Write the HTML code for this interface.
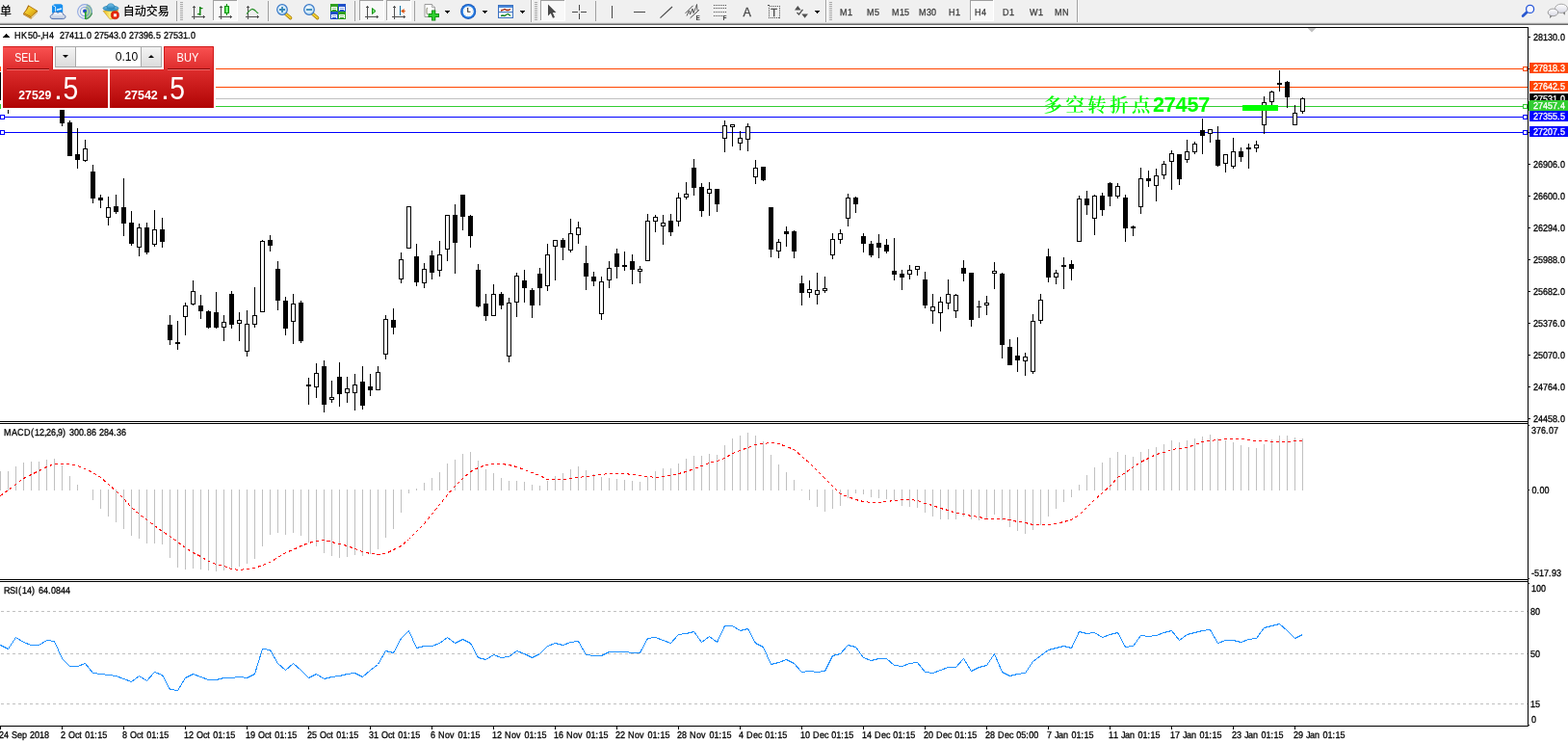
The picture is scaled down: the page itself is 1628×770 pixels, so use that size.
<!DOCTYPE html>
<html><head><meta charset="utf-8"><title>HK50-,H4</title>
<style>
html,body{margin:0;padding:0;background:#fff}
body{width:1628px;height:770px;overflow:hidden}
svg{display:block;font-family:"Liberation Sans","Noto Sans CJK SC",sans-serif}
#chart rect,#chart polyline,#chart line{shape-rendering:crispEdges}
</style></head><body>
<svg width="1628" height="770" viewBox="0 0 1628 770">
<rect x="0" y="0" width="1628" height="770" fill="#fff"/>
<g id="chart">
<rect x="0" y="28" width="1587" height="1" fill="#000"/>
<rect x="0" y="437" width="1587" height="1" fill="#000"/>
<rect x="0" y="439" width="1587" height="1" fill="#000"/>
<rect x="0" y="601" width="1587" height="1" fill="#000"/>
<rect x="0" y="603" width="1587" height="1" fill="#000"/>
<rect x="0" y="753" width="1587" height="1" fill="#000"/>
<rect x="1586" y="28" width="1" height="726" fill="#000"/>
<rect x="0" y="71" width="1586" height="1" fill="#ff4500"/>
<rect x="0" y="90" width="1586" height="1" fill="#ff4500"/>
<rect x="0" y="102" width="1586" height="1" fill="#c0c0c0"/>
<rect x="0" y="110" width="1586" height="1" fill="#32cd32"/>
<rect x="0" y="121" width="1586" height="1" fill="#0000ff"/>
<rect x="0" y="137" width="1586" height="1" fill="#0000ff"/>
<text y="116" font-size="21" font-weight="bold" fill="#00ff00"><tspan x="1083.5 1106.4 1129.3 1152.2 1175.1" font-size="19.3" font-weight="600" font-family='"Noto Serif CJK SC","Liberation Serif",serif'>多空转折点</tspan><tspan x="1197 1208.8 1220.6 1232.4 1244.2" font-size="21.6" font-family='"Liberation Sans",sans-serif'>27457</tspan></text>
<g id="candles">
<rect x="64" y="105" width="1" height="26" fill="#000"/>
<rect x="62" y="105" width="5" height="23" fill="#000"/>
<rect x="72" y="125" width="1" height="37" fill="#000"/>
<rect x="70" y="127" width="5" height="35" fill="#000"/>
<rect x="80" y="133" width="1" height="42" fill="#000"/>
<rect x="78" y="160" width="5" height="6" fill="#000"/>
<rect x="88" y="145" width="1" height="23" fill="#000"/>
<rect x="86" y="154" width="5" height="13" fill="#000"/>
<rect x="87" y="155" width="3" height="11" fill="#fff"/>
<rect x="96" y="171" width="1" height="40" fill="#000"/>
<rect x="94" y="178" width="5" height="28" fill="#000"/>
<rect x="104" y="202" width="1" height="14" fill="#000"/>
<rect x="102" y="205" width="5" height="3" fill="#000"/>
<rect x="112" y="204" width="1" height="30" fill="#000"/>
<rect x="110" y="215" width="5" height="11" fill="#000"/>
<rect x="111" y="216" width="3" height="9" fill="#fff"/>
<rect x="120" y="202" width="1" height="20" fill="#000"/>
<rect x="118" y="214" width="5" height="6" fill="#000"/>
<rect x="128" y="185" width="1" height="60" fill="#000"/>
<rect x="126" y="215" width="5" height="17" fill="#000"/>
<rect x="136" y="219" width="1" height="36" fill="#000"/>
<rect x="134" y="231" width="5" height="22" fill="#000"/>
<rect x="144" y="232" width="1" height="34" fill="#000"/>
<rect x="142" y="236" width="5" height="21" fill="#000"/>
<rect x="143" y="237" width="3" height="19" fill="#fff"/>
<rect x="152" y="231" width="1" height="33" fill="#000"/>
<rect x="150" y="236" width="5" height="26" fill="#000"/>
<rect x="160" y="218" width="1" height="38" fill="#000"/>
<rect x="158" y="238" width="5" height="16" fill="#000"/>
<rect x="159" y="239" width="3" height="14" fill="#fff"/>
<rect x="168" y="226" width="1" height="31" fill="#000"/>
<rect x="166" y="238" width="5" height="13" fill="#000"/>
<rect x="176" y="327" width="1" height="31" fill="#000"/>
<rect x="174" y="337" width="5" height="16" fill="#000"/>
<rect x="184" y="333" width="1" height="30" fill="#000"/>
<rect x="182" y="355" width="5" height="2" fill="#000"/>
<rect x="192" y="314" width="1" height="34" fill="#000"/>
<rect x="190" y="317" width="5" height="12" fill="#000"/>
<rect x="191" y="318" width="3" height="10" fill="#fff"/>
<rect x="200" y="291" width="1" height="26" fill="#000"/>
<rect x="198" y="302" width="5" height="14" fill="#000"/>
<rect x="199" y="303" width="3" height="12" fill="#fff"/>
<rect x="208" y="306" width="1" height="25" fill="#000"/>
<rect x="206" y="317" width="5" height="6" fill="#000"/>
<rect x="216" y="322" width="1" height="19" fill="#000"/>
<rect x="214" y="323" width="5" height="17" fill="#000"/>
<rect x="224" y="303" width="1" height="38" fill="#000"/>
<rect x="222" y="324" width="5" height="16" fill="#000"/>
<rect x="232" y="327" width="1" height="27" fill="#000"/>
<rect x="230" y="334" width="5" height="6" fill="#000"/>
<rect x="231" y="335" width="3" height="4" fill="#fff"/>
<rect x="240" y="302" width="1" height="39" fill="#000"/>
<rect x="238" y="305" width="5" height="32" fill="#000"/>
<rect x="248" y="324" width="1" height="30" fill="#000"/>
<rect x="246" y="332" width="5" height="4" fill="#000"/>
<rect x="247" y="333" width="3" height="2" fill="#fff"/>
<rect x="256" y="322" width="1" height="48" fill="#000"/>
<rect x="254" y="336" width="5" height="29" fill="#000"/>
<rect x="255" y="337" width="3" height="27" fill="#fff"/>
<rect x="264" y="298" width="1" height="42" fill="#000"/>
<rect x="262" y="327" width="5" height="10" fill="#000"/>
<rect x="263" y="328" width="3" height="8" fill="#fff"/>
<rect x="272" y="249" width="1" height="75" fill="#000"/>
<rect x="270" y="250" width="5" height="74" fill="#000"/>
<rect x="271" y="251" width="3" height="72" fill="#fff"/>
<rect x="280" y="244" width="1" height="17" fill="#000"/>
<rect x="278" y="249" width="5" height="6" fill="#000"/>
<rect x="288" y="271" width="1" height="51" fill="#000"/>
<rect x="286" y="279" width="5" height="33" fill="#000"/>
<rect x="296" y="308" width="1" height="40" fill="#000"/>
<rect x="294" y="312" width="5" height="29" fill="#000"/>
<rect x="304" y="305" width="1" height="52" fill="#000"/>
<rect x="302" y="315" width="5" height="19" fill="#000"/>
<rect x="303" y="316" width="3" height="17" fill="#fff"/>
<rect x="312" y="312" width="1" height="44" fill="#000"/>
<rect x="310" y="314" width="5" height="40" fill="#000"/>
<rect x="320" y="392" width="1" height="28" fill="#000"/>
<rect x="318" y="399" width="5" height="2" fill="#000"/>
<rect x="328" y="377" width="1" height="36" fill="#000"/>
<rect x="326" y="387" width="5" height="15" fill="#000"/>
<rect x="327" y="388" width="3" height="13" fill="#fff"/>
<rect x="336" y="374" width="1" height="54" fill="#000"/>
<rect x="334" y="380" width="5" height="40" fill="#000"/>
<rect x="344" y="395" width="1" height="23" fill="#000"/>
<rect x="342" y="412" width="5" height="3" fill="#000"/>
<rect x="343" y="413" width="3" height="1" fill="#fff"/>
<rect x="352" y="376" width="1" height="46" fill="#000"/>
<rect x="350" y="391" width="5" height="18" fill="#000"/>
<rect x="360" y="391" width="1" height="27" fill="#000"/>
<rect x="358" y="403" width="5" height="5" fill="#000"/>
<rect x="359" y="404" width="3" height="3" fill="#fff"/>
<rect x="368" y="388" width="1" height="38" fill="#000"/>
<rect x="366" y="399" width="5" height="9" fill="#000"/>
<rect x="367" y="400" width="3" height="7" fill="#fff"/>
<rect x="376" y="380" width="1" height="45" fill="#000"/>
<rect x="374" y="396" width="5" height="25" fill="#000"/>
<rect x="384" y="388" width="1" height="23" fill="#000"/>
<rect x="382" y="401" width="5" height="4" fill="#000"/>
<rect x="392" y="380" width="1" height="25" fill="#000"/>
<rect x="390" y="386" width="5" height="19" fill="#000"/>
<rect x="391" y="387" width="3" height="17" fill="#fff"/>
<rect x="400" y="327" width="1" height="46" fill="#000"/>
<rect x="398" y="331" width="5" height="37" fill="#000"/>
<rect x="399" y="332" width="3" height="35" fill="#fff"/>
<rect x="408" y="320" width="1" height="27" fill="#000"/>
<rect x="406" y="332" width="5" height="8" fill="#000"/>
<rect x="416" y="262" width="1" height="32" fill="#000"/>
<rect x="414" y="269" width="5" height="21" fill="#000"/>
<rect x="415" y="270" width="3" height="19" fill="#fff"/>
<rect x="424" y="214" width="1" height="44" fill="#000"/>
<rect x="422" y="214" width="5" height="44" fill="#000"/>
<rect x="423" y="215" width="3" height="42" fill="#fff"/>
<rect x="432" y="253" width="1" height="44" fill="#000"/>
<rect x="430" y="266" width="5" height="27" fill="#000"/>
<rect x="440" y="273" width="1" height="26" fill="#000"/>
<rect x="438" y="279" width="5" height="15" fill="#000"/>
<rect x="439" y="280" width="3" height="13" fill="#fff"/>
<rect x="448" y="260" width="1" height="30" fill="#000"/>
<rect x="446" y="265" width="5" height="18" fill="#000"/>
<rect x="456" y="250" width="1" height="37" fill="#000"/>
<rect x="454" y="264" width="5" height="17" fill="#000"/>
<rect x="455" y="265" width="3" height="15" fill="#fff"/>
<rect x="464" y="223" width="1" height="48" fill="#000"/>
<rect x="462" y="223" width="5" height="36" fill="#000"/>
<rect x="463" y="224" width="3" height="34" fill="#fff"/>
<rect x="472" y="212" width="1" height="72" fill="#000"/>
<rect x="470" y="223" width="5" height="29" fill="#000"/>
<rect x="480" y="202" width="1" height="37" fill="#000"/>
<rect x="478" y="202" width="5" height="23" fill="#000"/>
<rect x="488" y="223" width="1" height="34" fill="#000"/>
<rect x="486" y="224" width="5" height="21" fill="#000"/>
<rect x="496" y="274" width="1" height="45" fill="#000"/>
<rect x="494" y="280" width="5" height="38" fill="#000"/>
<rect x="504" y="305" width="1" height="28" fill="#000"/>
<rect x="502" y="315" width="5" height="13" fill="#000"/>
<rect x="512" y="295" width="1" height="33" fill="#000"/>
<rect x="510" y="305" width="5" height="23" fill="#000"/>
<rect x="511" y="306" width="3" height="21" fill="#fff"/>
<rect x="520" y="303" width="1" height="18" fill="#000"/>
<rect x="518" y="305" width="5" height="12" fill="#000"/>
<rect x="528" y="309" width="1" height="67" fill="#000"/>
<rect x="526" y="314" width="5" height="56" fill="#000"/>
<rect x="527" y="315" width="3" height="54" fill="#fff"/>
<rect x="536" y="283" width="1" height="46" fill="#000"/>
<rect x="534" y="286" width="5" height="28" fill="#000"/>
<rect x="535" y="287" width="3" height="26" fill="#fff"/>
<rect x="544" y="280" width="1" height="34" fill="#000"/>
<rect x="542" y="291" width="5" height="8" fill="#000"/>
<rect x="552" y="299" width="1" height="31" fill="#000"/>
<rect x="550" y="301" width="5" height="16" fill="#000"/>
<rect x="560" y="278" width="1" height="39" fill="#000"/>
<rect x="558" y="284" width="5" height="15" fill="#000"/>
<rect x="568" y="253" width="1" height="49" fill="#000"/>
<rect x="566" y="264" width="5" height="33" fill="#000"/>
<rect x="567" y="265" width="3" height="31" fill="#fff"/>
<rect x="576" y="249" width="1" height="42" fill="#000"/>
<rect x="574" y="249" width="5" height="7" fill="#000"/>
<rect x="575" y="250" width="3" height="5" fill="#fff"/>
<rect x="584" y="247" width="1" height="23" fill="#000"/>
<rect x="582" y="249" width="5" height="8" fill="#000"/>
<rect x="592" y="227" width="1" height="35" fill="#000"/>
<rect x="590" y="242" width="5" height="18" fill="#000"/>
<rect x="591" y="243" width="3" height="16" fill="#fff"/>
<rect x="600" y="230" width="1" height="23" fill="#000"/>
<rect x="598" y="236" width="5" height="8" fill="#000"/>
<rect x="599" y="237" width="3" height="6" fill="#fff"/>
<rect x="608" y="255" width="1" height="46" fill="#000"/>
<rect x="606" y="273" width="5" height="14" fill="#000"/>
<rect x="616" y="282" width="1" height="15" fill="#000"/>
<rect x="614" y="287" width="5" height="5" fill="#000"/>
<rect x="624" y="287" width="1" height="45" fill="#000"/>
<rect x="622" y="292" width="5" height="34" fill="#000"/>
<rect x="623" y="293" width="3" height="32" fill="#fff"/>
<rect x="632" y="271" width="1" height="28" fill="#000"/>
<rect x="630" y="278" width="5" height="13" fill="#000"/>
<rect x="631" y="279" width="3" height="11" fill="#fff"/>
<rect x="640" y="258" width="1" height="31" fill="#000"/>
<rect x="638" y="263" width="5" height="14" fill="#000"/>
<rect x="648" y="261" width="1" height="20" fill="#000"/>
<rect x="646" y="275" width="5" height="2" fill="#000"/>
<rect x="656" y="264" width="1" height="31" fill="#000"/>
<rect x="654" y="271" width="5" height="9" fill="#000"/>
<rect x="664" y="276" width="1" height="18" fill="#000"/>
<rect x="662" y="279" width="5" height="3" fill="#000"/>
<rect x="663" y="280" width="3" height="1" fill="#fff"/>
<rect x="672" y="222" width="1" height="49" fill="#000"/>
<rect x="670" y="229" width="5" height="42" fill="#000"/>
<rect x="671" y="230" width="3" height="40" fill="#fff"/>
<rect x="680" y="223" width="1" height="18" fill="#000"/>
<rect x="678" y="225" width="5" height="5" fill="#000"/>
<rect x="679" y="226" width="3" height="3" fill="#fff"/>
<rect x="688" y="223" width="1" height="31" fill="#000"/>
<rect x="686" y="231" width="5" height="4" fill="#000"/>
<rect x="687" y="232" width="3" height="2" fill="#fff"/>
<rect x="696" y="222" width="1" height="23" fill="#000"/>
<rect x="694" y="229" width="5" height="12" fill="#000"/>
<rect x="704" y="200" width="1" height="35" fill="#000"/>
<rect x="702" y="205" width="5" height="25" fill="#000"/>
<rect x="703" y="206" width="3" height="23" fill="#fff"/>
<rect x="712" y="189" width="1" height="18" fill="#000"/>
<rect x="710" y="201" width="5" height="4" fill="#000"/>
<rect x="711" y="202" width="3" height="2" fill="#fff"/>
<rect x="720" y="165" width="1" height="38" fill="#000"/>
<rect x="718" y="174" width="5" height="21" fill="#000"/>
<rect x="728" y="190" width="1" height="35" fill="#000"/>
<rect x="726" y="194" width="5" height="25" fill="#000"/>
<rect x="736" y="189" width="1" height="35" fill="#000"/>
<rect x="734" y="196" width="5" height="5" fill="#000"/>
<rect x="735" y="197" width="3" height="3" fill="#fff"/>
<rect x="744" y="196" width="1" height="24" fill="#000"/>
<rect x="742" y="196" width="5" height="16" fill="#000"/>
<rect x="752" y="125" width="1" height="33" fill="#000"/>
<rect x="750" y="130" width="5" height="14" fill="#000"/>
<rect x="751" y="131" width="3" height="12" fill="#fff"/>
<rect x="760" y="129" width="1" height="23" fill="#000"/>
<rect x="758" y="129" width="5" height="3" fill="#000"/>
<rect x="759" y="130" width="3" height="1" fill="#fff"/>
<rect x="768" y="136" width="1" height="20" fill="#000"/>
<rect x="766" y="143" width="5" height="6" fill="#000"/>
<rect x="767" y="144" width="3" height="4" fill="#fff"/>
<rect x="776" y="128" width="1" height="29" fill="#000"/>
<rect x="774" y="131" width="5" height="14" fill="#000"/>
<rect x="775" y="132" width="3" height="12" fill="#fff"/>
<rect x="784" y="166" width="1" height="25" fill="#000"/>
<rect x="782" y="174" width="5" height="10" fill="#000"/>
<rect x="783" y="175" width="3" height="8" fill="#fff"/>
<rect x="792" y="173" width="1" height="15" fill="#000"/>
<rect x="790" y="173" width="5" height="14" fill="#000"/>
<rect x="800" y="215" width="1" height="52" fill="#000"/>
<rect x="798" y="215" width="5" height="44" fill="#000"/>
<rect x="808" y="248" width="1" height="20" fill="#000"/>
<rect x="806" y="251" width="5" height="10" fill="#000"/>
<rect x="807" y="252" width="3" height="8" fill="#fff"/>
<rect x="816" y="235" width="1" height="21" fill="#000"/>
<rect x="814" y="240" width="5" height="3" fill="#000"/>
<rect x="824" y="239" width="1" height="29" fill="#000"/>
<rect x="822" y="240" width="5" height="21" fill="#000"/>
<rect x="832" y="286" width="1" height="31" fill="#000"/>
<rect x="830" y="294" width="5" height="10" fill="#000"/>
<rect x="840" y="291" width="1" height="18" fill="#000"/>
<rect x="838" y="300" width="5" height="4" fill="#000"/>
<rect x="839" y="301" width="3" height="2" fill="#fff"/>
<rect x="848" y="283" width="1" height="33" fill="#000"/>
<rect x="846" y="301" width="5" height="5" fill="#000"/>
<rect x="847" y="302" width="3" height="3" fill="#fff"/>
<rect x="856" y="287" width="1" height="17" fill="#000"/>
<rect x="854" y="299" width="5" height="3" fill="#000"/>
<rect x="855" y="300" width="3" height="1" fill="#fff"/>
<rect x="864" y="242" width="1" height="27" fill="#000"/>
<rect x="862" y="248" width="5" height="17" fill="#000"/>
<rect x="863" y="249" width="3" height="15" fill="#fff"/>
<rect x="872" y="238" width="1" height="15" fill="#000"/>
<rect x="870" y="242" width="5" height="7" fill="#000"/>
<rect x="871" y="243" width="3" height="5" fill="#fff"/>
<rect x="880" y="201" width="1" height="34" fill="#000"/>
<rect x="878" y="205" width="5" height="22" fill="#000"/>
<rect x="879" y="206" width="3" height="20" fill="#fff"/>
<rect x="888" y="204" width="1" height="17" fill="#000"/>
<rect x="886" y="205" width="5" height="7" fill="#000"/>
<rect x="896" y="242" width="1" height="20" fill="#000"/>
<rect x="894" y="245" width="5" height="8" fill="#000"/>
<rect x="904" y="250" width="1" height="17" fill="#000"/>
<rect x="902" y="253" width="5" height="12" fill="#000"/>
<rect x="912" y="243" width="1" height="25" fill="#000"/>
<rect x="910" y="252" width="5" height="5" fill="#000"/>
<rect x="920" y="248" width="1" height="15" fill="#000"/>
<rect x="918" y="254" width="5" height="7" fill="#000"/>
<rect x="928" y="247" width="1" height="44" fill="#000"/>
<rect x="926" y="281" width="5" height="4" fill="#000"/>
<rect x="936" y="280" width="1" height="21" fill="#000"/>
<rect x="934" y="284" width="5" height="4" fill="#000"/>
<rect x="944" y="275" width="1" height="15" fill="#000"/>
<rect x="942" y="280" width="5" height="5" fill="#000"/>
<rect x="943" y="281" width="3" height="3" fill="#fff"/>
<rect x="952" y="276" width="1" height="10" fill="#000"/>
<rect x="950" y="276" width="5" height="4" fill="#000"/>
<rect x="951" y="277" width="3" height="2" fill="#fff"/>
<rect x="960" y="282" width="1" height="38" fill="#000"/>
<rect x="958" y="290" width="5" height="27" fill="#000"/>
<rect x="968" y="305" width="1" height="31" fill="#000"/>
<rect x="966" y="318" width="5" height="5" fill="#000"/>
<rect x="967" y="319" width="3" height="3" fill="#fff"/>
<rect x="976" y="308" width="1" height="36" fill="#000"/>
<rect x="974" y="313" width="5" height="12" fill="#000"/>
<rect x="975" y="314" width="3" height="10" fill="#fff"/>
<rect x="984" y="290" width="1" height="31" fill="#000"/>
<rect x="982" y="305" width="5" height="10" fill="#000"/>
<rect x="983" y="306" width="3" height="8" fill="#fff"/>
<rect x="992" y="305" width="1" height="25" fill="#000"/>
<rect x="990" y="306" width="5" height="17" fill="#000"/>
<rect x="991" y="307" width="3" height="15" fill="#fff"/>
<rect x="1000" y="270" width="1" height="22" fill="#000"/>
<rect x="998" y="278" width="5" height="6" fill="#000"/>
<rect x="1008" y="283" width="1" height="56" fill="#000"/>
<rect x="1006" y="283" width="5" height="49" fill="#000"/>
<rect x="1016" y="312" width="1" height="18" fill="#000"/>
<rect x="1014" y="318" width="5" height="1" fill="#000"/>
<rect x="1024" y="307" width="1" height="20" fill="#000"/>
<rect x="1022" y="314" width="5" height="3" fill="#000"/>
<rect x="1023" y="315" width="3" height="1" fill="#fff"/>
<rect x="1032" y="272" width="1" height="28" fill="#000"/>
<rect x="1030" y="281" width="5" height="3" fill="#000"/>
<rect x="1031" y="282" width="3" height="1" fill="#fff"/>
<rect x="1040" y="283" width="1" height="89" fill="#000"/>
<rect x="1038" y="284" width="5" height="74" fill="#000"/>
<rect x="1048" y="352" width="1" height="27" fill="#000"/>
<rect x="1046" y="360" width="5" height="19" fill="#000"/>
<rect x="1056" y="350" width="1" height="36" fill="#000"/>
<rect x="1054" y="369" width="5" height="5" fill="#000"/>
<rect x="1064" y="366" width="1" height="24" fill="#000"/>
<rect x="1062" y="370" width="5" height="5" fill="#000"/>
<rect x="1063" y="371" width="3" height="3" fill="#fff"/>
<rect x="1072" y="326" width="1" height="62" fill="#000"/>
<rect x="1070" y="333" width="5" height="53" fill="#000"/>
<rect x="1071" y="334" width="3" height="51" fill="#fff"/>
<rect x="1080" y="305" width="1" height="31" fill="#000"/>
<rect x="1078" y="311" width="5" height="22" fill="#000"/>
<rect x="1079" y="312" width="3" height="20" fill="#fff"/>
<rect x="1088" y="258" width="1" height="35" fill="#000"/>
<rect x="1086" y="266" width="5" height="22" fill="#000"/>
<rect x="1096" y="280" width="1" height="15" fill="#000"/>
<rect x="1094" y="283" width="5" height="5" fill="#000"/>
<rect x="1095" y="284" width="3" height="3" fill="#fff"/>
<rect x="1104" y="267" width="1" height="33" fill="#000"/>
<rect x="1102" y="275" width="5" height="2" fill="#000"/>
<rect x="1112" y="270" width="1" height="21" fill="#000"/>
<rect x="1110" y="274" width="5" height="5" fill="#000"/>
<rect x="1120" y="203" width="1" height="48" fill="#000"/>
<rect x="1118" y="206" width="5" height="45" fill="#000"/>
<rect x="1119" y="207" width="3" height="43" fill="#fff"/>
<rect x="1128" y="198" width="1" height="25" fill="#000"/>
<rect x="1126" y="206" width="5" height="7" fill="#000"/>
<rect x="1136" y="202" width="1" height="42" fill="#000"/>
<rect x="1134" y="203" width="5" height="24" fill="#000"/>
<rect x="1135" y="204" width="3" height="22" fill="#fff"/>
<rect x="1144" y="200" width="1" height="24" fill="#000"/>
<rect x="1142" y="203" width="5" height="15" fill="#000"/>
<rect x="1152" y="189" width="1" height="25" fill="#000"/>
<rect x="1150" y="190" width="5" height="14" fill="#000"/>
<rect x="1160" y="190" width="1" height="16" fill="#000"/>
<rect x="1158" y="193" width="5" height="11" fill="#000"/>
<rect x="1159" y="194" width="3" height="9" fill="#fff"/>
<rect x="1168" y="202" width="1" height="49" fill="#000"/>
<rect x="1166" y="205" width="5" height="32" fill="#000"/>
<rect x="1176" y="234" width="1" height="11" fill="#000"/>
<rect x="1174" y="235" width="5" height="2" fill="#000"/>
<rect x="1184" y="174" width="1" height="48" fill="#000"/>
<rect x="1182" y="185" width="5" height="30" fill="#000"/>
<rect x="1183" y="186" width="3" height="28" fill="#fff"/>
<rect x="1192" y="177" width="1" height="17" fill="#000"/>
<rect x="1190" y="185" width="5" height="3" fill="#000"/>
<rect x="1200" y="175" width="1" height="34" fill="#000"/>
<rect x="1198" y="182" width="5" height="11" fill="#000"/>
<rect x="1199" y="183" width="3" height="9" fill="#fff"/>
<rect x="1208" y="167" width="1" height="19" fill="#000"/>
<rect x="1206" y="170" width="5" height="12" fill="#000"/>
<rect x="1207" y="171" width="3" height="10" fill="#fff"/>
<rect x="1216" y="156" width="1" height="41" fill="#000"/>
<rect x="1214" y="159" width="5" height="9" fill="#000"/>
<rect x="1215" y="160" width="3" height="7" fill="#fff"/>
<rect x="1224" y="160" width="1" height="32" fill="#000"/>
<rect x="1222" y="160" width="5" height="26" fill="#000"/>
<rect x="1232" y="145" width="1" height="24" fill="#000"/>
<rect x="1230" y="157" width="5" height="9" fill="#000"/>
<rect x="1231" y="158" width="3" height="7" fill="#fff"/>
<rect x="1240" y="147" width="1" height="13" fill="#000"/>
<rect x="1238" y="149" width="5" height="9" fill="#000"/>
<rect x="1239" y="150" width="3" height="7" fill="#fff"/>
<rect x="1248" y="123" width="1" height="37" fill="#000"/>
<rect x="1246" y="135" width="5" height="6" fill="#000"/>
<rect x="1256" y="134" width="1" height="14" fill="#000"/>
<rect x="1254" y="134" width="5" height="5" fill="#000"/>
<rect x="1255" y="135" width="3" height="3" fill="#fff"/>
<rect x="1264" y="131" width="1" height="42" fill="#000"/>
<rect x="1262" y="145" width="5" height="27" fill="#000"/>
<rect x="1272" y="160" width="1" height="19" fill="#000"/>
<rect x="1270" y="160" width="5" height="10" fill="#000"/>
<rect x="1271" y="161" width="3" height="8" fill="#fff"/>
<rect x="1280" y="143" width="1" height="32" fill="#000"/>
<rect x="1278" y="157" width="5" height="16" fill="#000"/>
<rect x="1279" y="158" width="3" height="14" fill="#fff"/>
<rect x="1288" y="153" width="1" height="15" fill="#000"/>
<rect x="1286" y="157" width="5" height="6" fill="#000"/>
<rect x="1296" y="149" width="1" height="26" fill="#000"/>
<rect x="1294" y="153" width="5" height="2" fill="#000"/>
<rect x="1304" y="146" width="1" height="12" fill="#000"/>
<rect x="1302" y="150" width="5" height="4" fill="#000"/>
<rect x="1303" y="151" width="3" height="2" fill="#fff"/>
<rect x="1312" y="100" width="1" height="39" fill="#000"/>
<rect x="1310" y="106" width="5" height="24" fill="#000"/>
<rect x="1311" y="107" width="3" height="22" fill="#fff"/>
<rect x="1320" y="94" width="1" height="15" fill="#000"/>
<rect x="1318" y="95" width="5" height="11" fill="#000"/>
<rect x="1319" y="96" width="3" height="9" fill="#fff"/>
<rect x="1328" y="73" width="1" height="22" fill="#000"/>
<rect x="1326" y="86" width="5" height="2" fill="#000"/>
<rect x="1336" y="84" width="1" height="28" fill="#000"/>
<rect x="1334" y="85" width="5" height="16" fill="#000"/>
<rect x="1344" y="109" width="1" height="21" fill="#000"/>
<rect x="1342" y="117" width="5" height="13" fill="#000"/>
<rect x="1343" y="118" width="3" height="11" fill="#fff"/>
<rect x="1352" y="101" width="1" height="17" fill="#000"/>
<rect x="1350" y="102" width="5" height="14" fill="#000"/>
<rect x="1351" y="103" width="3" height="12" fill="#fff"/>
<rect x="0" y="75" width="1" height="29" fill="#000"/>
<rect x="8" y="100" width="1" height="18" fill="#000"/>
</g>
<rect x="1290" y="109" width="37" height="6" fill="#00ff00"/>
<rect x="0.5" y="69.5" width="4" height="4" fill="#fff" stroke="#ff4500" stroke-width="1"/>
<rect x="1581.5" y="69.5" width="4" height="4" fill="#fff" stroke="#ff4500" stroke-width="1"/>
<rect x="0.5" y="108.5" width="4" height="4" fill="#fff" stroke="#32cd32" stroke-width="1"/>
<rect x="1581.5" y="108.5" width="4" height="4" fill="#fff" stroke="#32cd32" stroke-width="1"/>
<rect x="0.5" y="119.5" width="4" height="4" fill="#fff" stroke="#0000ff" stroke-width="1"/>
<rect x="1581.5" y="119.5" width="4" height="4" fill="#fff" stroke="#0000ff" stroke-width="1"/>
<rect x="0.5" y="135.5" width="4" height="4" fill="#fff" stroke="#0000ff" stroke-width="1"/>
<rect x="1581.5" y="135.5" width="4" height="4" fill="#fff" stroke="#0000ff" stroke-width="1"/>
<g id="macd">
<rect x="0" y="489" width="1" height="20" fill="#c0c0c0"/>
<rect x="8" y="489" width="1" height="20" fill="#c0c0c0"/>
<rect x="16" y="484" width="1" height="25" fill="#c0c0c0"/>
<rect x="24" y="480" width="1" height="29" fill="#c0c0c0"/>
<rect x="32" y="479" width="1" height="30" fill="#c0c0c0"/>
<rect x="40" y="479" width="1" height="30" fill="#c0c0c0"/>
<rect x="48" y="477" width="1" height="32" fill="#c0c0c0"/>
<rect x="56" y="476" width="1" height="33" fill="#c0c0c0"/>
<rect x="64" y="483" width="1" height="26" fill="#c0c0c0"/>
<rect x="72" y="494" width="1" height="15" fill="#c0c0c0"/>
<rect x="80" y="503" width="1" height="6" fill="#c0c0c0"/>
<rect x="96" y="508" width="1" height="11" fill="#c0c0c0"/>
<rect x="104" y="508" width="1" height="20" fill="#c0c0c0"/>
<rect x="112" y="508" width="1" height="28" fill="#c0c0c0"/>
<rect x="120" y="508" width="1" height="34" fill="#c0c0c0"/>
<rect x="128" y="508" width="1" height="41" fill="#c0c0c0"/>
<rect x="136" y="508" width="1" height="48" fill="#c0c0c0"/>
<rect x="144" y="508" width="1" height="51" fill="#c0c0c0"/>
<rect x="152" y="508" width="1" height="56" fill="#c0c0c0"/>
<rect x="160" y="508" width="1" height="56" fill="#c0c0c0"/>
<rect x="168" y="508" width="1" height="57" fill="#c0c0c0"/>
<rect x="176" y="508" width="1" height="71" fill="#c0c0c0"/>
<rect x="184" y="508" width="1" height="81" fill="#c0c0c0"/>
<rect x="192" y="508" width="1" height="83" fill="#c0c0c0"/>
<rect x="200" y="508" width="1" height="82" fill="#c0c0c0"/>
<rect x="208" y="508" width="1" height="83" fill="#c0c0c0"/>
<rect x="216" y="508" width="1" height="84" fill="#c0c0c0"/>
<rect x="224" y="508" width="1" height="85" fill="#c0c0c0"/>
<rect x="232" y="508" width="1" height="84" fill="#c0c0c0"/>
<rect x="240" y="508" width="1" height="82" fill="#c0c0c0"/>
<rect x="248" y="508" width="1" height="80" fill="#c0c0c0"/>
<rect x="256" y="508" width="1" height="77" fill="#c0c0c0"/>
<rect x="264" y="508" width="1" height="72" fill="#c0c0c0"/>
<rect x="272" y="508" width="1" height="59" fill="#c0c0c0"/>
<rect x="280" y="508" width="1" height="47" fill="#c0c0c0"/>
<rect x="288" y="508" width="1" height="45" fill="#c0c0c0"/>
<rect x="296" y="508" width="1" height="47" fill="#c0c0c0"/>
<rect x="304" y="508" width="1" height="45" fill="#c0c0c0"/>
<rect x="312" y="508" width="1" height="48" fill="#c0c0c0"/>
<rect x="320" y="508" width="1" height="55" fill="#c0c0c0"/>
<rect x="328" y="508" width="1" height="59" fill="#c0c0c0"/>
<rect x="336" y="508" width="1" height="66" fill="#c0c0c0"/>
<rect x="344" y="508" width="1" height="69" fill="#c0c0c0"/>
<rect x="352" y="508" width="1" height="71" fill="#c0c0c0"/>
<rect x="360" y="508" width="1" height="70" fill="#c0c0c0"/>
<rect x="368" y="508" width="1" height="68" fill="#c0c0c0"/>
<rect x="376" y="508" width="1" height="69" fill="#c0c0c0"/>
<rect x="384" y="508" width="1" height="67" fill="#c0c0c0"/>
<rect x="392" y="508" width="1" height="62" fill="#c0c0c0"/>
<rect x="400" y="508" width="1" height="50" fill="#c0c0c0"/>
<rect x="408" y="508" width="1" height="41" fill="#c0c0c0"/>
<rect x="416" y="508" width="1" height="24" fill="#c0c0c0"/>
<rect x="424" y="508" width="1" height="4" fill="#c0c0c0"/>
<rect x="432" y="507" width="1" height="2" fill="#c0c0c0"/>
<rect x="440" y="501" width="1" height="8" fill="#c0c0c0"/>
<rect x="448" y="496" width="1" height="13" fill="#c0c0c0"/>
<rect x="456" y="490" width="1" height="19" fill="#c0c0c0"/>
<rect x="464" y="481" width="1" height="28" fill="#c0c0c0"/>
<rect x="472" y="477" width="1" height="32" fill="#c0c0c0"/>
<rect x="480" y="471" width="1" height="38" fill="#c0c0c0"/>
<rect x="488" y="469" width="1" height="40" fill="#c0c0c0"/>
<rect x="496" y="478" width="1" height="31" fill="#c0c0c0"/>
<rect x="504" y="487" width="1" height="22" fill="#c0c0c0"/>
<rect x="512" y="491" width="1" height="18" fill="#c0c0c0"/>
<rect x="520" y="496" width="1" height="13" fill="#c0c0c0"/>
<rect x="528" y="499" width="1" height="10" fill="#c0c0c0"/>
<rect x="536" y="499" width="1" height="10" fill="#c0c0c0"/>
<rect x="544" y="500" width="1" height="9" fill="#c0c0c0"/>
<rect x="552" y="503" width="1" height="6" fill="#c0c0c0"/>
<rect x="560" y="504" width="1" height="5" fill="#c0c0c0"/>
<rect x="568" y="499" width="1" height="10" fill="#c0c0c0"/>
<rect x="576" y="494" width="1" height="15" fill="#c0c0c0"/>
<rect x="584" y="491" width="1" height="18" fill="#c0c0c0"/>
<rect x="592" y="487" width="1" height="22" fill="#c0c0c0"/>
<rect x="600" y="484" width="1" height="25" fill="#c0c0c0"/>
<rect x="608" y="488" width="1" height="21" fill="#c0c0c0"/>
<rect x="616" y="492" width="1" height="17" fill="#c0c0c0"/>
<rect x="624" y="495" width="1" height="14" fill="#c0c0c0"/>
<rect x="632" y="496" width="1" height="13" fill="#c0c0c0"/>
<rect x="640" y="497" width="1" height="12" fill="#c0c0c0"/>
<rect x="648" y="498" width="1" height="11" fill="#c0c0c0"/>
<rect x="656" y="499" width="1" height="10" fill="#c0c0c0"/>
<rect x="664" y="500" width="1" height="9" fill="#c0c0c0"/>
<rect x="672" y="495" width="1" height="14" fill="#c0c0c0"/>
<rect x="680" y="489" width="1" height="20" fill="#c0c0c0"/>
<rect x="688" y="486" width="1" height="23" fill="#c0c0c0"/>
<rect x="696" y="486" width="1" height="23" fill="#c0c0c0"/>
<rect x="704" y="481" width="1" height="28" fill="#c0c0c0"/>
<rect x="712" y="476" width="1" height="33" fill="#c0c0c0"/>
<rect x="720" y="473" width="1" height="36" fill="#c0c0c0"/>
<rect x="728" y="473" width="1" height="36" fill="#c0c0c0"/>
<rect x="736" y="471" width="1" height="38" fill="#c0c0c0"/>
<rect x="744" y="472" width="1" height="37" fill="#c0c0c0"/>
<rect x="752" y="462" width="1" height="47" fill="#c0c0c0"/>
<rect x="760" y="455" width="1" height="54" fill="#c0c0c0"/>
<rect x="768" y="452" width="1" height="57" fill="#c0c0c0"/>
<rect x="776" y="449" width="1" height="60" fill="#c0c0c0"/>
<rect x="784" y="452" width="1" height="57" fill="#c0c0c0"/>
<rect x="792" y="458" width="1" height="51" fill="#c0c0c0"/>
<rect x="800" y="472" width="1" height="37" fill="#c0c0c0"/>
<rect x="808" y="482" width="1" height="27" fill="#c0c0c0"/>
<rect x="816" y="490" width="1" height="19" fill="#c0c0c0"/>
<rect x="824" y="498" width="1" height="11" fill="#c0c0c0"/>
<rect x="832" y="508" width="1" height="1" fill="#c0c0c0"/>
<rect x="840" y="508" width="1" height="11" fill="#c0c0c0"/>
<rect x="848" y="508" width="1" height="18" fill="#c0c0c0"/>
<rect x="856" y="508" width="1" height="23" fill="#c0c0c0"/>
<rect x="864" y="508" width="1" height="20" fill="#c0c0c0"/>
<rect x="872" y="508" width="1" height="17" fill="#c0c0c0"/>
<rect x="880" y="508" width="1" height="9" fill="#c0c0c0"/>
<rect x="888" y="508" width="1" height="4" fill="#c0c0c0"/>
<rect x="896" y="508" width="1" height="5" fill="#c0c0c0"/>
<rect x="904" y="508" width="1" height="8" fill="#c0c0c0"/>
<rect x="912" y="508" width="1" height="9" fill="#c0c0c0"/>
<rect x="920" y="508" width="1" height="10" fill="#c0c0c0"/>
<rect x="928" y="508" width="1" height="11" fill="#c0c0c0"/>
<rect x="936" y="508" width="1" height="17" fill="#c0c0c0"/>
<rect x="944" y="508" width="1" height="18" fill="#c0c0c0"/>
<rect x="952" y="508" width="1" height="19" fill="#c0c0c0"/>
<rect x="960" y="508" width="1" height="24" fill="#c0c0c0"/>
<rect x="968" y="508" width="1" height="28" fill="#c0c0c0"/>
<rect x="976" y="508" width="1" height="31" fill="#c0c0c0"/>
<rect x="984" y="508" width="1" height="31" fill="#c0c0c0"/>
<rect x="992" y="508" width="1" height="31" fill="#c0c0c0"/>
<rect x="1000" y="508" width="1" height="28" fill="#c0c0c0"/>
<rect x="1008" y="508" width="1" height="31" fill="#c0c0c0"/>
<rect x="1016" y="508" width="1" height="32" fill="#c0c0c0"/>
<rect x="1024" y="508" width="1" height="30" fill="#c0c0c0"/>
<rect x="1032" y="508" width="1" height="26" fill="#c0c0c0"/>
<rect x="1040" y="508" width="1" height="32" fill="#c0c0c0"/>
<rect x="1048" y="508" width="1" height="39" fill="#c0c0c0"/>
<rect x="1056" y="508" width="1" height="43" fill="#c0c0c0"/>
<rect x="1064" y="508" width="1" height="46" fill="#c0c0c0"/>
<rect x="1072" y="508" width="1" height="42" fill="#c0c0c0"/>
<rect x="1080" y="508" width="1" height="37" fill="#c0c0c0"/>
<rect x="1088" y="508" width="1" height="28" fill="#c0c0c0"/>
<rect x="1096" y="508" width="1" height="20" fill="#c0c0c0"/>
<rect x="1104" y="508" width="1" height="13" fill="#c0c0c0"/>
<rect x="1112" y="508" width="1" height="8" fill="#c0c0c0"/>
<rect x="1120" y="503" width="1" height="6" fill="#c0c0c0"/>
<rect x="1128" y="493" width="1" height="16" fill="#c0c0c0"/>
<rect x="1136" y="485" width="1" height="24" fill="#c0c0c0"/>
<rect x="1144" y="480" width="1" height="29" fill="#c0c0c0"/>
<rect x="1152" y="475" width="1" height="34" fill="#c0c0c0"/>
<rect x="1160" y="469" width="1" height="40" fill="#c0c0c0"/>
<rect x="1168" y="472" width="1" height="37" fill="#c0c0c0"/>
<rect x="1176" y="474" width="1" height="35" fill="#c0c0c0"/>
<rect x="1184" y="469" width="1" height="40" fill="#c0c0c0"/>
<rect x="1192" y="466" width="1" height="43" fill="#c0c0c0"/>
<rect x="1200" y="464" width="1" height="45" fill="#c0c0c0"/>
<rect x="1208" y="461" width="1" height="48" fill="#c0c0c0"/>
<rect x="1216" y="457" width="1" height="52" fill="#c0c0c0"/>
<rect x="1224" y="459" width="1" height="50" fill="#c0c0c0"/>
<rect x="1232" y="457" width="1" height="52" fill="#c0c0c0"/>
<rect x="1240" y="455" width="1" height="54" fill="#c0c0c0"/>
<rect x="1248" y="453" width="1" height="56" fill="#c0c0c0"/>
<rect x="1256" y="451" width="1" height="58" fill="#c0c0c0"/>
<rect x="1264" y="455" width="1" height="54" fill="#c0c0c0"/>
<rect x="1272" y="457" width="1" height="52" fill="#c0c0c0"/>
<rect x="1280" y="459" width="1" height="50" fill="#c0c0c0"/>
<rect x="1288" y="462" width="1" height="47" fill="#c0c0c0"/>
<rect x="1296" y="464" width="1" height="45" fill="#c0c0c0"/>
<rect x="1304" y="465" width="1" height="44" fill="#c0c0c0"/>
<rect x="1312" y="461" width="1" height="48" fill="#c0c0c0"/>
<rect x="1320" y="456" width="1" height="53" fill="#c0c0c0"/>
<rect x="1328" y="452" width="1" height="57" fill="#c0c0c0"/>
<rect x="1336" y="452" width="1" height="57" fill="#c0c0c0"/>
<rect x="1344" y="454" width="1" height="55" fill="#c0c0c0"/>
<rect x="1352" y="455" width="1" height="54" fill="#c0c0c0"/>
<polyline points="0.5,514.5 8.5,508.5 16.5,502.5 24.5,496.5 32.5,492.5 40.5,488.5 48.5,484.5 56.5,481.5 64.5,481.5 72.5,481.5 80.5,483.5 88.5,486.5 96.5,490.5 104.5,495.5 112.5,502.5 120.5,509.5 128.5,517.5 136.5,526.5 144.5,533.5 152.5,539.5 160.5,545.5 168.5,551.5 176.5,556.5 184.5,562.5 192.5,568.5 200.5,573.5 208.5,577.5 216.5,582.5 224.5,585.5 232.5,587.5 240.5,590.5 248.5,591.5 256.5,590.5 264.5,589.5 272.5,586.5 280.5,583.5 288.5,578.5 296.5,573.5 304.5,570.5 312.5,566.5 320.5,563.5 328.5,561.5 336.5,560.5 344.5,562.5 352.5,564.5 360.5,566.5 368.5,569.5 376.5,572.5 384.5,574.5 392.5,575.5 400.5,574.5 408.5,570.5 416.5,566.5 424.5,559.5 432.5,551.5 440.5,543.5 448.5,533.5 456.5,523.5 464.5,513.5 472.5,504.5 480.5,496.5 488.5,489.5 496.5,485.5 504.5,482.5 512.5,481.5 520.5,481.5 528.5,482.5 536.5,484.5 544.5,487.5 552.5,490.5 560.5,493.5 568.5,497.5 576.5,497.5 584.5,497.5 592.5,496.5 600.5,495.5 608.5,494.5 616.5,493.5 624.5,492.5 632.5,491.5 640.5,491.5 648.5,491.5 656.5,492.5 664.5,493.5 672.5,494.5 680.5,495.5 688.5,494.5 696.5,493.5 704.5,491.5 712.5,489.5 720.5,486.5 728.5,483.5 736.5,480.5 744.5,478.5 752.5,475.5 760.5,470.5 768.5,467.5 776.5,464.5 784.5,461.5 792.5,460.5 800.5,459.5 808.5,460.5 816.5,463.5 824.5,466.5 832.5,473.5 840.5,480.5 848.5,488.5 856.5,496.5 864.5,504.5 872.5,512.5 880.5,515.5 888.5,518.5 896.5,520.5 904.5,521.5 912.5,521.5 920.5,520.5 928.5,519.5 936.5,518.5 944.5,518.5 952.5,519.5 960.5,522.5 968.5,524.5 976.5,527.5 984.5,529.5 992.5,532.5 1000.5,533.5 1008.5,535.5 1016.5,536.5 1024.5,538.5 1032.5,538.5 1040.5,538.5 1048.5,539.5 1056.5,541.5 1064.5,542.5 1072.5,544.5 1080.5,544.5 1088.5,544.5 1096.5,543.5 1104.5,541.5 1112.5,539.5 1120.5,534.5 1128.5,526.5 1136.5,518.5 1144.5,511.5 1152.5,504.5 1160.5,495.5 1168.5,490.5 1176.5,484.5 1184.5,479.5 1192.5,475.5 1200.5,471.5 1208.5,469.5 1216.5,466.5 1224.5,465.5 1232.5,464.5 1240.5,461.5 1248.5,458.5 1256.5,457.5 1264.5,456.5 1272.5,455.5 1280.5,455.5 1288.5,455.5 1296.5,456.5 1304.5,457.5 1312.5,457.5 1320.5,458.5 1328.5,458.5 1336.5,458.5 1344.5,457.5 1352.5,457.5" fill="none" stroke="#ff0000" stroke-width="1" stroke-dasharray="3 3"/>
</g>
<g id="rsi">
<line x1="0" x2="1586" y1="634.5" y2="634.5" stroke="#c0c0c0" stroke-width="1" stroke-dasharray="3 3" stroke-dashoffset="-1"/>
<line x1="0" x2="1586" y1="678.5" y2="678.5" stroke="#c0c0c0" stroke-width="1" stroke-dasharray="3 3" stroke-dashoffset="-1"/>
<line x1="0" x2="1586" y1="730.5" y2="730.5" stroke="#c0c0c0" stroke-width="1" stroke-dasharray="3 3" stroke-dashoffset="-1"/>
<polyline points="0.5,669.5 8.5,673.5 16.5,661.5 24.5,666.5 32.5,669.5 40.5,669.5 48.5,664.5 56.5,665.5 64.5,683.5 72.5,691.5 80.5,691.5 88.5,688.5 96.5,698.5 104.5,699.5 112.5,700.5 120.5,701.5 128.5,704.5 136.5,707.5 144.5,701.5 152.5,706.5 160.5,697.5 168.5,700.5 176.5,715.5 184.5,716.5 192.5,703.5 200.5,699.5 208.5,702.5 216.5,705.5 224.5,705.5 232.5,703.5 240.5,703.5 248.5,702.5 256.5,703.5 264.5,699.5 272.5,673.5 280.5,674.5 288.5,688.5 296.5,695.5 304.5,688.5 312.5,695.5 320.5,703.5 328.5,699.5 336.5,704.5 344.5,702.5 352.5,701.5 360.5,699.5 368.5,698.5 376.5,702.5 384.5,695.5 392.5,689.5 400.5,675.5 408.5,677.5 416.5,662.5 424.5,654.5 432.5,672.5 440.5,670.5 448.5,670.5 456.5,667.5 464.5,661.5 472.5,667.5 480.5,663.5 488.5,667.5 496.5,682.5 504.5,684.5 512.5,679.5 520.5,682.5 528.5,681.5 536.5,675.5 544.5,678.5 552.5,682.5 560.5,678.5 568.5,670.5 576.5,667.5 584.5,669.5 592.5,666.5 600.5,665.5 608.5,679.5 616.5,680.5 624.5,680.5 632.5,676.5 640.5,676.5 648.5,676.5 656.5,677.5 664.5,677.5 672.5,662.5 680.5,661.5 688.5,664.5 696.5,667.5 704.5,658.5 712.5,657.5 720.5,655.5 728.5,666.5 736.5,660.5 744.5,666.5 752.5,649.5 760.5,649.5 768.5,654.5 776.5,652.5 784.5,667.5 792.5,671.5 800.5,689.5 808.5,687.5 816.5,684.5 824.5,688.5 832.5,697.5 840.5,696.5 848.5,697.5 856.5,696.5 864.5,680.5 872.5,678.5 880.5,669.5 888.5,671.5 896.5,682.5 904.5,685.5 912.5,683.5 920.5,683.5 928.5,690.5 936.5,691.5 944.5,688.5 952.5,687.5 960.5,697.5 968.5,698.5 976.5,695.5 984.5,692.5 992.5,692.5 1000.5,683.5 1008.5,696.5 1016.5,692.5 1024.5,690.5 1032.5,678.5 1040.5,697.5 1048.5,701.5 1056.5,699.5 1064.5,698.5 1072.5,686.5 1080.5,680.5 1088.5,674.5 1096.5,672.5 1104.5,670.5 1112.5,672.5 1120.5,655.5 1128.5,657.5 1136.5,656.5 1144.5,661.5 1152.5,658.5 1160.5,656.5 1168.5,671.5 1176.5,670.5 1184.5,659.5 1192.5,660.5 1200.5,659.5 1208.5,656.5 1216.5,654.5 1224.5,664.5 1232.5,658.5 1240.5,656.5 1248.5,654.5 1256.5,653.5 1264.5,667.5 1272.5,664.5 1280.5,664.5 1288.5,666.5 1296.5,663.5 1304.5,662.5 1312.5,651.5 1320.5,649.5 1328.5,647.5 1336.5,654.5 1344.5,662.5 1352.5,658.5" fill="none" stroke="#1e90ff" stroke-width="1"/>
</g>
<rect x="1587" y="28" width="41" height="742" fill="#fff"/>
<rect x="1587" y="38" width="2" height="1" fill="#000"/>
<text transform="scale(0.9,1)" x="1768.89 1774.44 1780 1785.56 1791.11 1796.67 1800" y="42" font-size="10" fill="#000" stroke="#000" stroke-width="0.3" text-rendering="geometricPrecision">28130.0</text>
<rect x="1587" y="170" width="2" height="1" fill="#000"/>
<text transform="scale(0.9,1)" x="1768.89 1774.44 1780 1785.56 1791.11 1796.67 1800" y="174" font-size="10" fill="#000" stroke="#000" stroke-width="0.3" text-rendering="geometricPrecision">26906.0</text>
<rect x="1587" y="203" width="2" height="1" fill="#000"/>
<text transform="scale(0.9,1)" x="1768.89 1774.44 1780 1785.56 1791.11 1796.67 1800" y="207" font-size="10" fill="#000" stroke="#000" stroke-width="0.3" text-rendering="geometricPrecision">26600.0</text>
<rect x="1587" y="236" width="2" height="1" fill="#000"/>
<text transform="scale(0.9,1)" x="1768.89 1774.44 1780 1785.56 1791.11 1796.67 1800" y="240" font-size="10" fill="#000" stroke="#000" stroke-width="0.3" text-rendering="geometricPrecision">26294.0</text>
<rect x="1587" y="269" width="2" height="1" fill="#000"/>
<text transform="scale(0.9,1)" x="1768.89 1774.44 1780 1785.56 1791.11 1796.67 1800" y="273" font-size="10" fill="#000" stroke="#000" stroke-width="0.3" text-rendering="geometricPrecision">25988.0</text>
<rect x="1587" y="302" width="2" height="1" fill="#000"/>
<text transform="scale(0.9,1)" x="1768.89 1774.44 1780 1785.56 1791.11 1796.67 1800" y="306" font-size="10" fill="#000" stroke="#000" stroke-width="0.3" text-rendering="geometricPrecision">25682.0</text>
<rect x="1587" y="335" width="2" height="1" fill="#000"/>
<text transform="scale(0.9,1)" x="1768.89 1774.44 1780 1785.56 1791.11 1796.67 1800" y="339" font-size="10" fill="#000" stroke="#000" stroke-width="0.3" text-rendering="geometricPrecision">25376.0</text>
<rect x="1587" y="368" width="2" height="1" fill="#000"/>
<text transform="scale(0.9,1)" x="1768.89 1774.44 1780 1785.56 1791.11 1796.67 1800" y="372" font-size="10" fill="#000" stroke="#000" stroke-width="0.3" text-rendering="geometricPrecision">25070.0</text>
<rect x="1587" y="401" width="2" height="1" fill="#000"/>
<text transform="scale(0.9,1)" x="1768.89 1774.44 1780 1785.56 1791.11 1796.67 1800" y="405" font-size="10" fill="#000" stroke="#000" stroke-width="0.3" text-rendering="geometricPrecision">24764.0</text>
<rect x="1587" y="434" width="2" height="1" fill="#000"/>
<text transform="scale(0.9,1)" x="1768.89 1774.44 1780 1785.56 1791.11 1796.67 1800" y="438" font-size="10" fill="#000" stroke="#000" stroke-width="0.3" text-rendering="geometricPrecision">24458.0</text>
<rect x="1588" y="65" width="40" height="11" fill="#ff4500"/>
<text transform="scale(0.9,1)" x="1768.89 1774.44 1780 1785.56 1791.11 1796.67 1800" y="74" font-size="10" fill="#fff" stroke="#fff" stroke-width="0.3" text-rendering="geometricPrecision">27818.3</text>
<rect x="1588" y="84" width="40" height="11" fill="#ff4500"/>
<text transform="scale(0.9,1)" x="1768.89 1774.44 1780 1785.56 1791.11 1796.67 1800" y="93" font-size="10" fill="#fff" stroke="#fff" stroke-width="0.3" text-rendering="geometricPrecision">27642.5</text>
<rect x="1588" y="97" width="40" height="11" fill="#000"/>
<text transform="scale(0.9,1)" x="1768.89 1774.44 1780 1785.56 1791.11 1796.67 1800" y="106" font-size="10" fill="#fff" stroke="#fff" stroke-width="0.3" text-rendering="geometricPrecision">27531.0</text>
<rect x="1588" y="104" width="40" height="11" fill="#32cd32"/>
<text transform="scale(0.9,1)" x="1768.89 1774.44 1780 1785.56 1791.11 1796.67 1800" y="113" font-size="10" fill="#fff" stroke="#fff" stroke-width="0.3" text-rendering="geometricPrecision">27457.4</text>
<rect x="1588" y="115" width="40" height="11" fill="#0000ff"/>
<text transform="scale(0.9,1)" x="1768.89 1774.44 1780 1785.56 1791.11 1796.67 1800" y="124" font-size="10" fill="#fff" stroke="#fff" stroke-width="0.3" text-rendering="geometricPrecision">27355.5</text>
<rect x="1588" y="131" width="40" height="11" fill="#0000ff"/>
<text transform="scale(0.9,1)" x="1768.89 1774.44 1780 1785.56 1791.11 1796.67 1800" y="140" font-size="10" fill="#fff" stroke="#fff" stroke-width="0.3" text-rendering="geometricPrecision">27207.5</text>
<rect x="1587" y="71" width="1" height="1" fill="#000"/>
<rect x="1587" y="137" width="1" height="1" fill="#000"/>
<rect x="1587" y="105" width="1" height="10" fill="#32cd32"/>
<rect x="1587" y="441" width="1" height="1" fill="#000"/>
<text transform="scale(0.9,1)" x="1766.67 1772.22 1777.78 1783.33 1786.67 1792.22" y="450" font-size="10" fill="#000" stroke="#000" stroke-width="0.3" text-rendering="geometricPrecision">376.07</text>
<rect x="1587" y="508" width="1" height="1" fill="#000"/>
<text transform="scale(0.9,1)" x="1767.22 1772.78 1776.11 1781.67" y="512" font-size="10" fill="#000" stroke="#000" stroke-width="0.3" text-rendering="geometricPrecision">0.00</text>
<rect x="1587" y="600" width="1" height="1" fill="#000"/>
<text transform="scale(0.9,1)" x="1766.67 1770 1775.56 1781.11 1786.67 1790 1795.56" y="598" font-size="10" fill="#000" stroke="#000" stroke-width="0.3" text-rendering="geometricPrecision">-517.93</text>
<rect x="1587" y="605" width="1" height="1" fill="#000"/>
<text transform="scale(0.9,1)" x="1766.67 1772.22 1777.78" y="614" font-size="10" fill="#000" stroke="#000" stroke-width="0.3" text-rendering="geometricPrecision">100</text>
<text transform="scale(0.9,1)" x="1765.56 1771.11" y="638" font-size="10" fill="#000" stroke="#000" stroke-width="0.3" text-rendering="geometricPrecision">80</text>
<text transform="scale(0.9,1)" x="1765.56 1771.11" y="682" font-size="10" fill="#000" stroke="#000" stroke-width="0.3" text-rendering="geometricPrecision">50</text>
<text transform="scale(0.9,1)" x="1765.56 1771.11" y="734" font-size="10" fill="#000" stroke="#000" stroke-width="0.3" text-rendering="geometricPrecision">15</text>
<rect x="1587" y="752" width="1" height="1" fill="#000"/>
<text transform="scale(0.9,1)" x="1766.67" y="750" font-size="10" fill="#000" stroke="#000" stroke-width="0.3" text-rendering="geometricPrecision">0</text>
<rect x="0" y="754" width="1" height="3" fill="#000"/>
<text transform="scale(0.9,1)" x="-1.11 4.44 10 13.33 20 25.56 31.11 34.44 40 45.56 51.11" y="766" font-size="10" fill="#000" stroke="#000" stroke-width="0.3" text-rendering="geometricPrecision">24&#160;Sep&#160;2018</text>
<rect x="64" y="754" width="1" height="3" fill="#000"/>
<text transform="scale(0.9,1)" x="70 75.56 78.89 86.67 91.33 94.67 98 103.56 109.11 112.44 118" y="766" font-size="10" fill="#000" stroke="#000" stroke-width="0.3" text-rendering="geometricPrecision">2&#160;Oct&#160;01:15</text>
<rect x="128" y="754" width="1" height="3" fill="#000"/>
<text transform="scale(0.9,1)" x="141.11 146.67 150 157.78 162.44 165.78 169.11 174.67 180.22 183.56 189.11" y="766" font-size="10" fill="#000" stroke="#000" stroke-width="0.3" text-rendering="geometricPrecision">8&#160;Oct&#160;01:15</text>
<rect x="192" y="754" width="1" height="3" fill="#000"/>
<text transform="scale(0.9,1)" x="212.22 217.78 223.33 226.67 234.44 239.11 242.44 245.78 251.33 256.89 260.22 265.78" y="766" font-size="10" fill="#000" stroke="#000" stroke-width="0.3" text-rendering="geometricPrecision">12&#160;Oct&#160;01:15</text>
<rect x="256" y="754" width="1" height="3" fill="#000"/>
<text transform="scale(0.9,1)" x="283.33 288.89 294.44 297.78 305.56 310.22 313.56 316.89 322.44 328 331.33 336.89" y="766" font-size="10" fill="#000" stroke="#000" stroke-width="0.3" text-rendering="geometricPrecision">19&#160;Oct&#160;01:15</text>
<rect x="320" y="754" width="1" height="3" fill="#000"/>
<text transform="scale(0.9,1)" x="354.44 360 365.56 368.89 376.67 381.33 384.67 388 393.56 399.11 402.44 408" y="766" font-size="10" fill="#000" stroke="#000" stroke-width="0.3" text-rendering="geometricPrecision">25&#160;Oct&#160;01:15</text>
<rect x="384" y="754" width="1" height="3" fill="#000"/>
<text transform="scale(0.9,1)" x="425.56 431.11 436.67 440 447.78 452.44 455.78 459.11 464.67 470.22 473.56 479.11" y="766" font-size="10" fill="#000" stroke="#000" stroke-width="0.3" text-rendering="geometricPrecision">31&#160;Oct&#160;01:15</text>
<rect x="448" y="754" width="1" height="3" fill="#000"/>
<text transform="scale(0.9,1)" x="496.67 502.22 505.56 513.33 518.89 525 528.33 533.89 539.44 542.78 548.33" y="766" font-size="10" fill="#000" stroke="#000" stroke-width="0.3" text-rendering="geometricPrecision">6&#160;Nov&#160;01:15</text>
<rect x="512" y="754" width="1" height="3" fill="#000"/>
<text transform="scale(0.9,1)" x="567.78 573.33 578.89 582.22 590 595.56 601.67 605 610.56 616.11 619.44 625" y="766" font-size="10" fill="#000" stroke="#000" stroke-width="0.3" text-rendering="geometricPrecision">12&#160;Nov&#160;01:15</text>
<rect x="576" y="754" width="1" height="3" fill="#000"/>
<text transform="scale(0.9,1)" x="638.89 644.44 650 653.33 661.11 666.67 672.78 676.11 681.67 687.22 690.56 696.11" y="766" font-size="10" fill="#000" stroke="#000" stroke-width="0.3" text-rendering="geometricPrecision">16&#160;Nov&#160;01:15</text>
<rect x="640" y="754" width="1" height="3" fill="#000"/>
<text transform="scale(0.9,1)" x="710 715.56 721.11 724.44 732.22 737.78 743.89 747.22 752.78 758.33 761.67 767.22" y="766" font-size="10" fill="#000" stroke="#000" stroke-width="0.3" text-rendering="geometricPrecision">22&#160;Nov&#160;01:15</text>
<rect x="704" y="754" width="1" height="3" fill="#000"/>
<text transform="scale(0.9,1)" x="781.11 786.67 792.22 795.56 803.33 808.89 815 818.33 823.89 829.44 832.78 838.33" y="766" font-size="10" fill="#000" stroke="#000" stroke-width="0.3" text-rendering="geometricPrecision">28&#160;Nov&#160;01:15</text>
<rect x="768" y="754" width="1" height="3" fill="#000"/>
<text transform="scale(0.9,1)" x="852.22 857.78 861.11 868.89 874.44 879.11 882.44 888 893.56 896.89 902.44" y="766" font-size="10" fill="#000" stroke="#000" stroke-width="0.3" text-rendering="geometricPrecision">4&#160;Dec&#160;01:15</text>
<rect x="832" y="754" width="1" height="3" fill="#000"/>
<text transform="scale(0.9,1)" x="923.33 928.89 934.44 937.78 945.56 951.11 955.78 959.11 964.67 970.22 973.56 979.11" y="766" font-size="10" fill="#000" stroke="#000" stroke-width="0.3" text-rendering="geometricPrecision">10&#160;Dec&#160;01:15</text>
<rect x="896" y="754" width="1" height="3" fill="#000"/>
<text transform="scale(0.9,1)" x="994.44 1000 1005.56 1008.89 1016.67 1022.22 1026.89 1030.22 1035.78 1041.33 1044.67 1050.22" y="766" font-size="10" fill="#000" stroke="#000" stroke-width="0.3" text-rendering="geometricPrecision">14&#160;Dec&#160;01:15</text>
<rect x="960" y="754" width="1" height="3" fill="#000"/>
<text transform="scale(0.9,1)" x="1065.56 1071.11 1076.67 1080 1087.78 1093.33 1098 1101.33 1106.89 1112.44 1115.78 1121.33" y="766" font-size="10" fill="#000" stroke="#000" stroke-width="0.3" text-rendering="geometricPrecision">20&#160;Dec&#160;01:15</text>
<rect x="1024" y="754" width="1" height="3" fill="#000"/>
<text transform="scale(0.9,1)" x="1136.67 1142.22 1147.78 1151.11 1158.89 1164.44 1169.11 1172.44 1178 1183.56 1186.89 1192.44" y="766" font-size="10" fill="#000" stroke="#000" stroke-width="0.3" text-rendering="geometricPrecision">28&#160;Dec&#160;05:00</text>
<rect x="1088" y="754" width="1" height="3" fill="#000"/>
<text transform="scale(0.9,1)" x="1207.78 1213.33 1216.67 1221.11 1226.67 1232.78 1236.11 1241.67 1247.22 1250.56 1256.11" y="766" font-size="10" fill="#000" stroke="#000" stroke-width="0.3" text-rendering="geometricPrecision">7&#160;Jan&#160;01:15</text>
<rect x="1152" y="754" width="1" height="3" fill="#000"/>
<text transform="scale(0.9,1)" x="1278.89 1284.44 1290 1293.33 1297.78 1303.33 1309.44 1312.78 1318.33 1323.89 1327.22 1332.78" y="766" font-size="10" fill="#000" stroke="#000" stroke-width="0.3" text-rendering="geometricPrecision">11&#160;Jan&#160;01:15</text>
<rect x="1216" y="754" width="1" height="3" fill="#000"/>
<text transform="scale(0.9,1)" x="1350 1355.56 1361.11 1364.44 1368.89 1374.44 1380.56 1383.89 1389.44 1395 1398.33 1403.89" y="766" font-size="10" fill="#000" stroke="#000" stroke-width="0.3" text-rendering="geometricPrecision">17&#160;Jan&#160;01:15</text>
<rect x="1280" y="754" width="1" height="3" fill="#000"/>
<text transform="scale(0.9,1)" x="1421.11 1426.67 1432.22 1435.56 1440 1445.56 1451.67 1455 1460.56 1466.11 1469.44 1475" y="766" font-size="10" fill="#000" stroke="#000" stroke-width="0.3" text-rendering="geometricPrecision">23&#160;Jan&#160;01:15</text>
<rect x="1344" y="754" width="1" height="3" fill="#000"/>
<text transform="scale(0.9,1)" x="1492.22 1497.78 1503.33 1506.67 1511.11 1516.67 1522.78 1526.11 1531.67 1537.22 1540.56 1546.11" y="766" font-size="10" fill="#000" stroke="#000" stroke-width="0.3" text-rendering="geometricPrecision">29&#160;Jan&#160;01:15</text>
<rect x="6" y="35" width="1" height="1" fill="#000"/>
<rect x="5" y="36" width="3" height="1" fill="#000"/>
<rect x="4" y="37" width="5" height="1" fill="#000"/>
<rect x="3" y="38" width="7" height="1" fill="#000"/>
<text transform="scale(0.9,1)" x="16.67 24.44 32.22 37.78 43.33 46.67 48.89 56.67 62.22 65.56 68.89 74.44 80 85.56 91.11 96.67 100 105.56 108.89 114.44 120 125.56 131.11 136.67 140 145.56 148.89 154.44 160 165.56 171.11 176.67 180 185.56 188.89 194.44 200 205.56 211.11 216.67 220" y="40" font-size="10" fill="#000" stroke="#000" stroke-width="0.3" text-rendering="geometricPrecision">HK50-,H4&#160;&#160;27411.0&#160;27543.0&#160;27396.5&#160;27531.0</text>
<text transform="scale(0.9,1)" x="4.44 13.33 20 27.78 35.56 40 45.56 51.11 53.33 58.89 64.44 66.67 72.22 76.67 80 85.56 91.11 96.67 100 105.56 111.11 114.44 120 125.56 131.11 134.44 140" y="452" font-size="10" fill="#000" stroke="#000" stroke-width="0.3" text-rendering="geometricPrecision">MACD(12,26,9)&#160;300.86&#160;284.36</text>
<text transform="scale(0.9,1)" x="4.44 11.11 17.78 21.11 25.56 31.11 36.67 41.11 44.44 50 55.56 58.89 64.44 70 75.56" y="616" font-size="10" fill="#000" stroke="#000" stroke-width="0.3" text-rendering="geometricPrecision">RSI(14)&#160;64.0844</text>
<path d="M1357.5 29 L1366.5 29 L1362 33.5 Z" fill="#c0c0c0"/>
</g>

<g id="panel">
<rect x="1" y="46" width="223" height="68" fill="#fff"/>
<defs>
<linearGradient id="rg" x1="0" y1="48" x2="0" y2="112" gradientUnits="userSpaceOnUse"><stop offset="0" stop-color="#fa5252"/><stop offset="0.38" stop-color="#dd2c2c"/><stop offset="1" stop-color="#b00404"/></linearGradient>
<linearGradient id="bg" x1="0" y1="0" x2="0" y2="1"><stop offset="0" stop-color="#f4f4f4"/><stop offset="1" stop-color="#dcdcdc"/></linearGradient>
</defs>
<path d="M3 48H55V72H112V112H3Z" fill="url(#rg)"/>
<path d="M114 72H170V48H222V112H114Z" fill="url(#rg)"/>
<path d="M3.5 48.5H54.5V72" fill="none" stroke="#d01818" stroke-width="1"/>
<path d="M170.5 72V48.5H221.5V112" fill="none" stroke="#d01818" stroke-width="1"/>
<rect x="7" y="71" width="44" height="1" fill="#8c0a0a"/><rect x="7" y="72" width="44" height="1" fill="#ee6a6a"/>
<rect x="174" y="71" width="44" height="1" fill="#8c0a0a"/><rect x="174" y="72" width="44" height="1" fill="#ee6a6a"/>
<rect x="57.5" y="48.5" width="110" height="21" fill="#fff" stroke="#a9a9a9"/>
<rect x="58" y="49" width="20" height="20" fill="url(#bg)"/><rect x="78" y="49" width="1" height="20" fill="#a9a9a9"/>
<rect x="147" y="49" width="20" height="20" fill="url(#bg)"/><rect x="146" y="49" width="1" height="20" fill="#a9a9a9"/>
<path d="M65 57H71L68 60Z" fill="#000"/>
<path d="M154 60H160L157 57Z" fill="#000"/>
<text x="119.7" y="63" font-size="13" textLength="23.6" lengthAdjust="spacingAndGlyphs" fill="#000">0.10</text>
<text x="15.2" y="64" font-size="12" textLength="25.7" lengthAdjust="spacingAndGlyphs" fill="#fff">SELL</text>
<text x="183.6" y="64" font-size="12" textLength="22.8" lengthAdjust="spacingAndGlyphs" fill="#fff">BUY</text>
<text x="19.3" y="103" font-size="12" font-weight="bold" textLength="34" lengthAdjust="spacingAndGlyphs" fill="#fff">27529</text>
<text x="129.2" y="103" font-size="12" font-weight="bold" textLength="34.6" lengthAdjust="spacingAndGlyphs" fill="#fff">27542</text>
<text x="56" y="103" font-size="32" fill="#fff">.</text>
<text x="167" y="103" font-size="32" fill="#fff">.</text>
<text transform="translate(65.5,103) scale(0.86,1)" font-size="33" fill="#fff">5</text>
<text transform="translate(176.3,103) scale(0.86,1)" font-size="33" fill="#fff">5</text>
</g>

<g id="toolbar">
<rect x="0" y="0" width="1628" height="23" fill="#f0f0f0"/>
<rect x="0" y="23" width="1628" height="1" fill="#e3e3e3"/><rect x="0" y="24" width="1628" height="1" fill="#a0a0a0"/><rect x="0" y="25" width="1628" height="1" fill="#696969"/><rect x="0" y="26" width="1628" height="2" fill="#fff"/>
<defs>
<linearGradient id="gold" x1="0" y1="0" x2="1" y2="1"><stop offset="0" stop-color="#fbe060"/><stop offset="0.5" stop-color="#ecc020"/><stop offset="1" stop-color="#c89010"/></linearGradient>
<linearGradient id="cld" x1="0" y1="0" x2="0" y2="1"><stop offset="0" stop-color="#ffffff"/><stop offset="1" stop-color="#b8c4dc"/></linearGradient>
<linearGradient id="grn" x1="0" y1="0" x2="1" y2="0"><stop offset="0" stop-color="#20c020"/><stop offset="0.5" stop-color="#90ff90"/><stop offset="1" stop-color="#20c020"/></linearGradient>
<radialGradient id="lens" cx="0.4" cy="0.35" r="0.7"><stop offset="0" stop-color="#f4fbff"/><stop offset="1" stop-color="#b8dcf4"/></radialGradient>
<linearGradient id="hat" x1="0" y1="0" x2="0" y2="1"><stop offset="0" stop-color="#7cc4ec"/><stop offset="1" stop-color="#2888c0"/></linearGradient>
<linearGradient id="fun" x1="0" y1="0" x2="1" y2="0"><stop offset="0" stop-color="#e8b818"/><stop offset="0.5" stop-color="#fff080"/><stop offset="1" stop-color="#e0a810"/></linearGradient>
<radialGradient id="clk" cx="0.5" cy="0.5" r="0.5"><stop offset="0.6" stop-color="#ffffff"/><stop offset="0.72" stop-color="#3a90f0"/><stop offset="1" stop-color="#0a48b0"/></radialGradient>
<linearGradient id="bub" x1="0" y1="0" x2="0" y2="1"><stop offset="0" stop-color="#ffffff"/><stop offset="1" stop-color="#d8d8e4"/></linearGradient>
</defs>
<text x="0" y="15.600" font-size="12" font-weight="500" fill="#000">单</text>
<path d="M24.2 13.700Q27.500 10 29.300 5.200L39.200 11.300L38.800 13.300L32.200 19.800L24.200 15.200Z" fill="#a86808"/><path d="M32.600 17.600L38.700 11.900L38.900 13.200L32.400 19.300Z" fill="#f0e4b0"/><path d="M25.300 13.500Q28.500 10 30 6.400L38 11.300L32.400 17.200Z" fill="url(#gold)"/><path d="M25 14.600L32.200 18.700" stroke="#e8c050" stroke-width="0.8" fill="none"/>
<path d="M54 5.500L57 4.200H63.500L65.200 5.500V13.500H54Z" fill="#1890f0"/><path d="M54.300 5.300L57.600 7V13" fill="none" stroke="#e8f6ff" stroke-width="0.9"/><path d="M59 9.500L64 8.300V9.700L59 10.900Z" fill="#e8f6ff"/><path d="M55 19.600C51.300 19.600 51.300 15.300 54.800 15C54.800 12.300 58.500 11.500 60 13.500C62 11.600 65.800 12.600 65.600 15.200C68.800 15.300 68.800 19.600 65.500 19.600Z" fill="url(#cld)" stroke="#4868a8" stroke-width="0.9"/>
<path d="M88 12L88 20A8 8 0 0 0 96 12A8 8 0 0 0 90 4.300Z" fill="#98cc90" opacity="0.8"/><circle cx="88" cy="12" r="7.400" fill="none" stroke="#5078d8" stroke-width="1.100" opacity="0.6"/><circle cx="88" cy="12" r="4.600" fill="none" stroke="#5078d8" stroke-width="1.100" opacity="0.6"/><circle cx="88" cy="11.500" r="2" fill="#2048c8"/><rect x="88" y="12" width="1.500" height="8" fill="#20a020"/><path d="M89 19.800Q93.500 19 95.600 13.500" fill="none" stroke="#389038" stroke-width="1.200" opacity="0.8"/>
<path d="M107 11.300L122.800 10.400L116.500 19.800H114Z" fill="url(#fun)" stroke="#c89010" stroke-width="0.6"/><ellipse cx="115" cy="8.600" rx="8" ry="2.600" fill="url(#hat)" stroke="#1878a8" stroke-width="0.7"/><path d="M111 8.500Q111 3.800 115 3.800Q119 3.800 119 8.500Q115 10 111 8.500Z" fill="url(#hat)" stroke="#1878a8" stroke-width="0.6"/><circle cx="119.400" cy="15.700" r="4.100" fill="#e82808"/><circle cx="119.400" cy="15.700" r="4.100" fill="none" stroke="#b81800" stroke-width="0.6"/><rect x="118" y="14.300" width="3" height="3" fill="#fff"/>
<text x="127.800" y="15.600" font-size="12" font-weight="500" fill="#000">自动交易</text>
<rect x="183" y="1" width="1" height="21" fill="#a0a0a0"/>
<rect x="187" y="2" width="3" height="1" fill="#a8a8a8"/>
<rect x="187" y="4" width="3" height="1" fill="#a8a8a8"/>
<rect x="187" y="6" width="3" height="1" fill="#a8a8a8"/>
<rect x="187" y="8" width="3" height="1" fill="#a8a8a8"/>
<rect x="187" y="10" width="3" height="1" fill="#a8a8a8"/>
<rect x="187" y="12" width="3" height="1" fill="#a8a8a8"/>
<rect x="187" y="14" width="3" height="1" fill="#a8a8a8"/>
<rect x="187" y="16" width="3" height="1" fill="#a8a8a8"/>
<rect x="187" y="18" width="3" height="1" fill="#a8a8a8"/>
<rect x="187" y="20" width="3" height="1" fill="#a8a8a8"/>
<g fill="#505050" shape-rendering="crispEdges"><rect x="201" y="6" width="1" height="14"/><rect x="200" y="7" width="3" height="1"/><rect x="199" y="17" width="14" height="1"/><rect x="211" y="16" width="1" height="3"/></g>
<g fill="#108010"><rect x="207" y="7" width="1.500" height="9"/><rect x="208" y="8" width="2.500" height="1.200"/><rect x="205" y="14" width="2.500" height="1.200"/></g>
<rect x="221" y="0" width="26" height="22" fill="#fff"/><rect x="221" y="0" width="25" height="21" fill="#a0a0a0"/><rect x="222" y="1" width="24" height="20" fill="#f8f8f8"/>
<g fill="#505050" shape-rendering="crispEdges"><rect x="229" y="6" width="1" height="14"/><rect x="228" y="7" width="3" height="1"/><rect x="227" y="17" width="14" height="1"/><rect x="239" y="16" width="1" height="3"/></g>
<rect x="235" y="4" width="1" height="12" fill="#089008"/><rect x="233.500" y="6.500" width="4" height="7" fill="url(#grn)" stroke="#089008"/>
<g fill="#505050" shape-rendering="crispEdges"><rect x="257" y="6" width="1" height="14"/><rect x="256" y="7" width="3" height="1"/><rect x="255" y="17" width="14" height="1"/><rect x="267" y="16" width="1" height="3"/></g>
<path d="M256 14.500Q259 10.500 262 9.300Q264.500 10 266 12T268 13" fill="none" stroke="#289028" stroke-width="1.2"/>
<rect x="278" y="1" width="1" height="21" fill="#a0a0a0"/>
<path d="M296.5 14.3L301.6 18.6" stroke="#a87808" stroke-width="3.4" stroke-linecap="round"/><path d="M296.5 14.3L301.6 18.6" stroke="#f0d030" stroke-width="2" stroke-linecap="round"/><circle cx="293" cy="10" r="5.3" fill="url(#lens)" stroke="#3878c8" stroke-width="1.2"/>
<path d="M290 10H296M293 7V13" stroke="#3888b8" stroke-width="1.800" fill="none"/>
<path d="M324.5 14.3L329.6 18.6" stroke="#a87808" stroke-width="3.4" stroke-linecap="round"/><path d="M324.5 14.3L329.6 18.6" stroke="#f0d030" stroke-width="2" stroke-linecap="round"/><circle cx="321" cy="10" r="5.3" fill="url(#lens)" stroke="#3878c8" stroke-width="1.2"/>
<path d="M318 10H324" stroke="#3888b8" stroke-width="1.800" fill="none"/>
<rect x="343" y="4" width="8" height="8" fill="#30a020"/><rect x="344" y="7" width="6" height="4" fill="#fff"/><rect x="345" y="8" width="4" height="1" fill="#30a020" opacity="0.55"/><rect x="345" y="10" width="4" height="1" fill="#30a020"/>
<rect x="351" y="4" width="8" height="8" fill="#2050c8"/><rect x="352" y="7" width="6" height="4" fill="#fff"/><rect x="353" y="8" width="4" height="1" fill="#2050c8" opacity="0.55"/><rect x="353" y="10" width="4" height="1" fill="#2050c8"/>
<rect x="343" y="12" width="8" height="8" fill="#2050c8"/><rect x="344" y="15" width="6" height="4" fill="#fff"/><rect x="345" y="16" width="4" height="1" fill="#2050c8" opacity="0.55"/><rect x="345" y="18" width="4" height="1" fill="#2050c8"/>
<rect x="351" y="12" width="8" height="8" fill="#30a020"/><rect x="352" y="15" width="6" height="4" fill="#fff"/><rect x="353" y="16" width="4" height="1" fill="#30a020" opacity="0.55"/><rect x="353" y="18" width="4" height="1" fill="#30a020"/>
<rect x="368" y="1" width="1" height="21" fill="#a0a0a0"/>
<rect x="373" y="0" width="26" height="22" fill="#fff"/><rect x="373" y="0" width="25" height="21" fill="#a0a0a0"/><rect x="374" y="1" width="24" height="20" fill="#f8f8f8"/>
<g fill="#505050" shape-rendering="crispEdges"><rect x="381" y="6" width="1" height="14"/><rect x="380" y="7" width="3" height="1"/><rect x="379" y="17" width="14" height="1"/><rect x="391" y="16" width="1" height="3"/></g>
<path d="M386.500 8.500L390 11.500L386.500 14.500Z" fill="#70e070" stroke="#109010" stroke-width="1"/>
<rect x="401" y="0" width="26" height="22" fill="#fff"/><rect x="401" y="0" width="25" height="21" fill="#a0a0a0"/><rect x="402" y="1" width="24" height="20" fill="#f8f8f8"/>
<g fill="#505050" shape-rendering="crispEdges"><rect x="409" y="6" width="1" height="14"/><rect x="408" y="7" width="3" height="1"/><rect x="407" y="17" width="14" height="1"/><rect x="419" y="16" width="1" height="3"/></g>
<rect x="415" y="6" width="1" height="10" fill="#1070a0"/><path d="M416.500 11.500L419.500 9.500L419 11L421 11.500L419 12L419.500 13.500Z" fill="#d84800" stroke="#d84800" stroke-width="0.5"/>
<rect x="430" y="1" width="1" height="21" fill="#a0a0a0"/>
<path d="M441 4.500H448.500L451.500 7.500V17.500H441Z" fill="#fff" stroke="#909090" stroke-width="0.9"/><path d="M448.500 4.500V7.500H451.500" fill="#e8e8e8" stroke="#909090" stroke-width="0.7"/><path d="M444 8Q443 8 443 10V13Q443 15 444 15" fill="none" stroke="#606040" stroke-width="0.8"/><path d="M450.200 10.400V21.600M444.600 16H456" stroke="#088008" stroke-width="4.200" fill="none"/><path d="M450.200 11.200V20.800M445.400 16H455.200" stroke="#30d030" stroke-width="2.600" fill="none"/>
<rect x="462" y="11" width="5" height="1" fill="#000"/><rect x="463" y="12" width="3" height="1" fill="#000"/><rect x="464" y="13" width="1" height="1" fill="#000"/>
<circle cx="486.200" cy="11.900" r="8" fill="url(#clk)"/><circle cx="486.200" cy="11.900" r="5.200" fill="#fff"/><path d="M485.700 8V12.200H488.500" stroke="#303030" stroke-width="1.100" fill="none"/><circle cx="486.200" cy="11.900" r="4.300" fill="none" stroke="#909090" stroke-width="0.6" stroke-dasharray="0.6 1.650"/>
<rect x="501" y="11" width="5" height="1" fill="#000"/><rect x="502" y="12" width="3" height="1" fill="#000"/><rect x="503" y="13" width="1" height="1" fill="#000"/>
<rect x="517.500" y="5.500" width="15" height="13" fill="#fff" stroke="#3a70c0"/><rect x="518" y="6" width="14" height="2" fill="#4a88d8"/><rect x="518" y="12" width="14" height="1" fill="#3a70c0"/><path d="M520 11L522 10.500L524 9.500L526 10.500L528 10.500L530 9.500" stroke="#a02000" stroke-width="1.300" fill="none"/><path d="M520 16.500L522 16L524 16.500L526 15L527.500 14.500L530 16.500" stroke="#108020" stroke-width="1.300" fill="none"/>
<rect x="540" y="11" width="5" height="1" fill="#000"/><rect x="541" y="12" width="3" height="1" fill="#000"/><rect x="542" y="13" width="1" height="1" fill="#000"/>
<rect x="551" y="0" width="1" height="23" fill="#a0a0a0"/><rect x="552" y="0" width="1" height="23" fill="#fff"/>
<rect x="555" y="2" width="3" height="1" fill="#a8a8a8"/>
<rect x="555" y="4" width="3" height="1" fill="#a8a8a8"/>
<rect x="555" y="6" width="3" height="1" fill="#a8a8a8"/>
<rect x="555" y="8" width="3" height="1" fill="#a8a8a8"/>
<rect x="555" y="10" width="3" height="1" fill="#a8a8a8"/>
<rect x="555" y="12" width="3" height="1" fill="#a8a8a8"/>
<rect x="555" y="14" width="3" height="1" fill="#a8a8a8"/>
<rect x="555" y="16" width="3" height="1" fill="#a8a8a8"/>
<rect x="555" y="18" width="3" height="1" fill="#a8a8a8"/>
<rect x="555" y="20" width="3" height="1" fill="#a8a8a8"/>
<rect x="561" y="0" width="26" height="22" fill="#fff"/><rect x="561" y="0" width="25" height="21" fill="#a0a0a0"/><rect x="562" y="1" width="24" height="20" fill="#f8f8f8"/>
<path d="M569 4.500V16.500L571.800 13.800L574 18.800L576 17.900L573.800 13H577.500Z" fill="#484848"/>
<g fill="#484848" shape-rendering="crispEdges"><rect x="601" y="5" width="1" height="6"/><rect x="601" y="14" width="1" height="6"/><rect x="594" y="12" width="6" height="1"/><rect x="603" y="12" width="6" height="1"/><rect x="601" y="12" width="1" height="1" opacity="0.5"/></g>
<rect x="618" y="1" width="1" height="21" fill="#a0a0a0"/>
<rect x="635" y="6" width="1" height="13" fill="#484848"/>
<rect x="658" y="12" width="12" height="1" fill="#484848"/>
<path d="M685.500 18.700L698 7" stroke="#484848" fill="none" stroke-width="1.100"/>
<path d="M711.600 13.800L719.600 5.800M716.600 18.800L726 10.200" stroke="#484848" fill="none" stroke-width="1"/><path d="M713 16.500L715.500 11L716.500 15L719 9L720 13.500L722.500 7.500L723.500 4.500L724 11" stroke="#484848" fill="none" stroke-width="0.9"/><text x="722.600" y="20.700" font-size="6.500" font-weight="bold" fill="#404040">E</text>
<path d="M741 5.5H754" stroke="#484848" stroke-dasharray="1 1" fill="none" shape-rendering="crispEdges"/>
<path d="M741 8.5H754" stroke="#484848" stroke-dasharray="1 1" fill="none" shape-rendering="crispEdges"/>
<path d="M741 12.5H754" stroke="#484848" stroke-dasharray="1 1" fill="none" shape-rendering="crispEdges"/>
<path d="M741 16.5H750" stroke="#484848" stroke-dasharray="1 1" fill="none" shape-rendering="crispEdges"/>
<text x="750.500" y="20.700" font-size="6.500" font-weight="bold" fill="#404040">F</text>
<text x="771.400" y="17" font-size="12.500" fill="#484848" stroke="#484848" stroke-width="0.3">A</text>
<rect x="798.500" y="6.500" width="11" height="12" fill="none" stroke="#484848" stroke-dasharray="1 1" shape-rendering="crispEdges"/><rect x="797" y="5" width="2" height="1" fill="#484848"/><text x="800.200" y="16.900" font-size="11" fill="#484848" stroke="#484848" stroke-width="0.3">T</text>
<path d="M825 10.500L828.300 6L831.700 10.500ZM832.300 14.400L835.600 18.800L839 14.400Z" fill="#505050"/><path d="M827.500 13L829.500 15L833.500 9.800" stroke="#505050" fill="none" stroke-width="1.300"/>
<rect x="846" y="11" width="5" height="1" fill="#000"/><rect x="847" y="12" width="3" height="1" fill="#000"/><rect x="848" y="13" width="1" height="1" fill="#000"/>
<rect x="857" y="0" width="1" height="23" fill="#a0a0a0"/><rect x="858" y="0" width="1" height="23" fill="#fff"/>
<rect x="861" y="2" width="3" height="1" fill="#a8a8a8"/>
<rect x="861" y="4" width="3" height="1" fill="#a8a8a8"/>
<rect x="861" y="6" width="3" height="1" fill="#a8a8a8"/>
<rect x="861" y="8" width="3" height="1" fill="#a8a8a8"/>
<rect x="861" y="10" width="3" height="1" fill="#a8a8a8"/>
<rect x="861" y="12" width="3" height="1" fill="#a8a8a8"/>
<rect x="861" y="14" width="3" height="1" fill="#a8a8a8"/>
<rect x="861" y="16" width="3" height="1" fill="#a8a8a8"/>
<rect x="861" y="18" width="3" height="1" fill="#a8a8a8"/>
<rect x="861" y="20" width="3" height="1" fill="#a8a8a8"/>
<rect x="1007" y="0" width="25" height="22" fill="#fff"/><rect x="1007" y="0" width="24" height="21" fill="#a0a0a0"/><rect x="1008" y="1" width="23" height="20" fill="#f8f8f8"/>
<text transform="scale(0.9,1)" x="968.89 977.78" y="16" font-size="10" fill="#404040" stroke="#404040" stroke-width="0.3" text-rendering="geometricPrecision">M1</text>
<text transform="scale(0.9,1)" x="1000 1008.89" y="16" font-size="10" fill="#404040" stroke="#404040" stroke-width="0.3" text-rendering="geometricPrecision">M5</text>
<text transform="scale(0.9,1)" x="1028.89 1037.78 1043.33" y="16" font-size="10" fill="#404040" stroke="#404040" stroke-width="0.3" text-rendering="geometricPrecision">M15</text>
<text transform="scale(0.9,1)" x="1060 1068.89 1074.44" y="16" font-size="10" fill="#404040" stroke="#404040" stroke-width="0.3" text-rendering="geometricPrecision">M30</text>
<text transform="scale(0.9,1)" x="1094.44 1102.22" y="16" font-size="10" fill="#404040" stroke="#404040" stroke-width="0.3" text-rendering="geometricPrecision">H1</text>
<text transform="scale(0.9,1)" x="1124.44 1132.22" y="16" font-size="10" fill="#404040" stroke="#404040" stroke-width="0.3" text-rendering="geometricPrecision">H4</text>
<text transform="scale(0.9,1)" x="1156.67 1164.44" y="16" font-size="10" fill="#404040" stroke="#404040" stroke-width="0.3" text-rendering="geometricPrecision">D1</text>
<text transform="scale(0.9,1)" x="1187.78 1197.78" y="16" font-size="10" fill="#404040" stroke="#404040" stroke-width="0.3" text-rendering="geometricPrecision">W1</text>
<text transform="scale(0.9,1)" x="1216.67 1225.56" y="16" font-size="10" fill="#404040" stroke="#404040" stroke-width="0.3" text-rendering="geometricPrecision">MN</text>
<rect x="1118" y="0" width="1" height="23" fill="#a0a0a0"/><rect x="1119" y="0" width="1" height="23" fill="#fff"/>
<path d="M1585.200 12.700L1581.200 16.500" stroke="#2858d0" stroke-width="2.800" stroke-linecap="round"/><circle cx="1588.600" cy="9.400" r="4" fill="#f8f8ff" stroke="#2858d8" stroke-width="1.300"/>
<path d="M1622 12L1624.500 15.800L1625 12Z" fill="#606060"/><ellipse cx="1621" cy="8.800" rx="6.500" ry="4.600" fill="url(#bub)" stroke="#a0a0a0" stroke-width="0.9"/><path d="M1609.500 15.500L1609 19L1612 16.300Z" fill="#686868"/><ellipse cx="1612.400" cy="12.900" rx="5.200" ry="3.800" fill="url(#bub)" stroke="#909090" stroke-width="0.9"/>
</g>
</svg>
</body></html>
